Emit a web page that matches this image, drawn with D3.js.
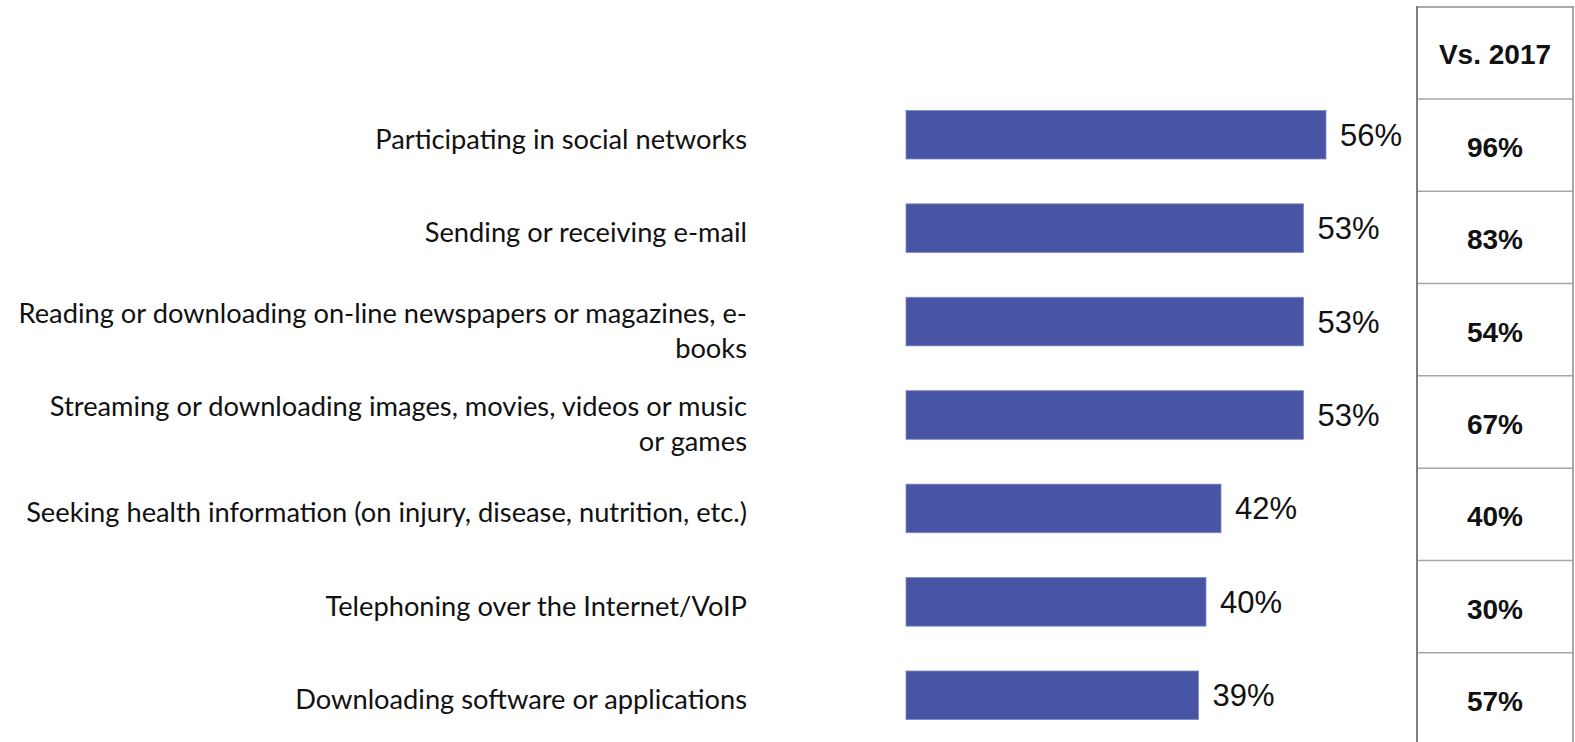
<!DOCTYPE html>
<html>
<head>
<meta charset="utf-8">
<script src="https://cdn.jsdelivr.net/npm/d3@7"></script>
<style>
  html, body { margin: 0; padding: 0; background: #fff; }
  svg { display: block; }
</style>
</head>
<body>
<svg id="chart" width="1575" height="742"></svg>
<script>
// ---- Data ----
const categories = [
  ["Participating in social networks"],
  ["Sending or receiving e-mail"],
  ["Reading or downloading on-line newspapers or magazines, e-", "books"],
  ["Streaming or downloading images, movies, videos or music", "or games"],
  ["Seeking health information (on injury, disease, nutrition, etc.)"],
  ["Telephoning over the Internet/VoIP"],
  ["Downloading software or applications"]
];
const values2019 = [56, 53, 53, 53, 42, 40, 39];
const vs2017 = [96, 83, 54, 67, 40, 30, 57];
const tableHeader = "Vs. 2017";

// ---- Layout ----
const W = 1575, H = 742;
const svg = d3.select("#chart");
const idx = d3.range(categories.length);

const x = d3.scaleLinear().domain([0, 100]).range([906, 1656]);
const y = d3.scaleBand().domain(idx).range([88, 742]).paddingInner(0.48).paddingOuter(0.24);
const rowY = d3.scaleBand().domain(idx).range([99, 745]);

const barColor = "#4855A5";

// Bars
svg.append("g").selectAll("rect").data(idx).join("rect")
  .attr("x", x(0))
  .attr("y", i => y(i))
  .attr("width", i => x(values2019[i]) - x(0))
  .attr("height", y.bandwidth())
  .attr("fill", barColor)
  .attr("stroke", "#7f88c4")
  .attr("stroke-width", 0.8);

// Value labels
svg.append("g").selectAll("text").data(idx).join("text")
  .attr("x", i => x(values2019[i]) + 14)
  .attr("y", i => y(i) + y.bandwidth() / 2 + 11)
  .attr("font-family", "Liberation Sans, Arial, sans-serif")
  .attr("font-size", 31)
  .attr("fill", "#111")
  .text(i => values2019[i] + "%");

// Category labels
const labelFont = "Lato, 'Open Sans', sans-serif";
const lg = svg.append("g");
const labels = lg.selectAll("text").data(idx).join("text")
  .attr("text-anchor", "end")
  .attr("font-family", labelFont)
  .attr("font-size", 24)
  .attr("fill", "#111");
labels.each(function(i) {
  const lines = categories[i];
  const cy = y(i) + y.bandwidth() / 2;
  const first = lines.length === 1 ? cy + 14 : cy + 1;
  d3.select(this).selectAll("tspan").data(lines).join("tspan")
    .attr("x", 747)
    .attr("y", (d, k) => first + k * 35)
    .text(d => d);
});
// fit font size so the widest label spans like the reference
let maxW = 0;
labels.each(function() {
  d3.select(this).selectAll("tspan").each(function() {
    maxW = Math.max(maxW, this.getComputedTextLength());
  });
});
const fs = 24 * 729 / maxW;
labels.attr("font-size", fs);

// Table
const tg = svg.append("g");
const tLeft = 1417, tRight = 1573;
tg.append("line").attr("x1", tLeft).attr("x2", tRight).attr("y1", 7).attr("y2", 7)
  .attr("stroke", "#8c8c8c").attr("stroke-width", 1.5);
tg.selectAll("line.h").data(idx).join("line").attr("class", "h")
  .attr("x1", tLeft).attr("x2", tRight)
  .attr("y1", i => rowY(i)).attr("y2", i => rowY(i))
  .attr("stroke", "#a6a6a6").attr("stroke-width", 1.5);
tg.append("line").attr("x1", tLeft).attr("x2", tLeft).attr("y1", 6).attr("y2", H)
  .attr("stroke", "#7f7f7f").attr("stroke-width", 2);
tg.append("line").attr("x1", tRight).attr("x2", tRight).attr("y1", 6).attr("y2", H)
  .attr("stroke", "#8c8c8c").attr("stroke-width", 1.5);

const cx = (tLeft + tRight) / 2;
tg.append("text")
  .attr("x", cx).attr("y", (7 + rowY(0)) / 2 + 11)
  .attr("text-anchor", "middle")
  .attr("font-family", "Liberation Sans, Arial, sans-serif")
  .attr("font-weight", "bold").attr("font-size", 28).attr("fill", "#111")
  .text(tableHeader);
tg.selectAll("text.v").data(idx).join("text").attr("class", "v")
  .attr("x", cx)
  .attr("y", i => rowY(i) + rowY.bandwidth() / 2 + 12)
  .attr("text-anchor", "middle")
  .attr("font-family", "Liberation Sans, Arial, sans-serif")
  .attr("font-weight", "bold").attr("font-size", 28).attr("fill", "#111")
  .text(i => vs2017[i] + "%");
</script>
</body>
</html>
